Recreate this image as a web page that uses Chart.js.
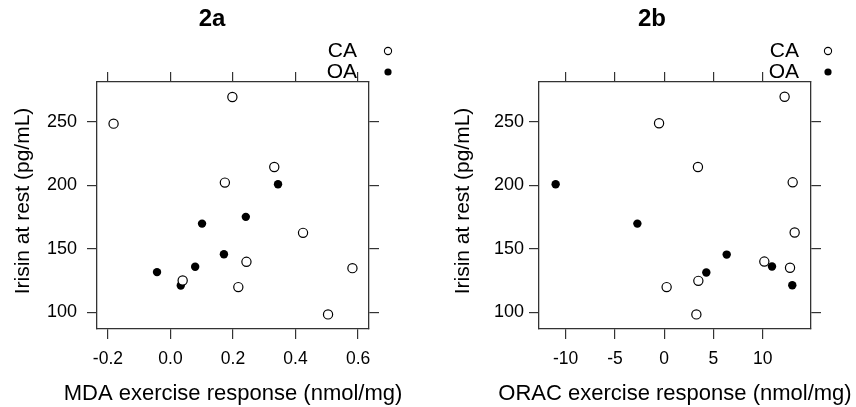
<!DOCTYPE html>
<html>
<head>
<meta charset="utf-8">
<script src="https://cdn.jsdelivr.net/npm/chart.js@4"></script>
<style>
  html, body { margin: 0; padding: 0; background: #fff; overflow: hidden; }
  .panel { position: absolute; top: 0; width: 428px; height: 407px; }
  #panelA { left: 0; }
  #panelB { left: 428px; }
</style>
</head>
<body>
<div class="panel" id="panelA"><canvas id="chartA"></canvas></div>
<div class="panel" id="panelB"><canvas id="chartB"></canvas></div>
<script>
// irisin at rest vs MDA exercise response
const mdaCAx = [-0.182, 0.198, 0.332, 0.174, 0.424, 0.243, 0.039, 0.217, 0.582, 0.504];
const mdaCAy = [248.7, 269.7, 214.6, 202.3, 162.7, 139.9, 125.2, 120.0, 134.9, 98.5];
const mdaOAx = [0.344, 0.241, 0.101, 0.171, 0.079, -0.043, 0.033];
const mdaOAy = [201.0, 175.3, 170.0, 145.9, 136.0, 131.8, 121.3];

// irisin at rest vs ORAC exercise response
const oracCAx = [12.23, -0.52, 3.43, 13.05, 13.25, 10.17, 12.78, 3.47, 0.25, 3.27];
const oracCAy = [269.9, 249.0, 214.6, 202.5, 163.0, 140.1, 135.2, 124.9, 120.0, 98.5];
const oracOAx = [-11.02, -2.72, 6.35, 4.28, 10.95, 13.01];
const oracOAy = [201.0, 170.0, 145.6, 131.5, 136.2, 121.5];

const mdaTicks = [-0.2, 0, 0.2, 0.4, 0.6];
const oracTicks = [-10, -5, 0, 5, 10];
const irisinTicks = [100, 150, 200, 250];
const groups = ["CA", "OA"];

const FONT = "'Liberation Sans', Arial, sans-serif";
Chart.defaults.font.family = FONT;
Chart.defaults.color = "#000";

const frameColor = "#333";

function toPoints(xs, ys) {
  return xs.map((x, i) => ({ x: x, y: ys[i] }));
}

function fixedTicks(values) {
  return function (scale) {
    scale.ticks = values.map((v) => ({ value: v }));
  };
}

function makePanel(canvasId, p) {
  const box = p.box; // chart area inside the canvas
  const W = 428, H = 407;

  const axisBase = {
    type: "linear",
    grid: { drawOnChartArea: false, drawTicks: true, tickLength: 10, color: frameColor, lineWidth: 1.2 },
    border: { display: true, color: frameColor, width: 1.3 }
  };

  // panel title, legend and axis titles (drawn by hand so they are not squeezed)
  const decor = {
    id: "decor",
    afterDraw(chart) {
      const ctx = chart.ctx;
      const area = chart.chartArea;
      ctx.save();
      ctx.fillStyle = "#000";
      ctx.font = "bold 24px " + FONT;
      ctx.textAlign = "center";
      ctx.textBaseline = "middle";
      ctx.fillText(p.title, p.titleX, 19);

      ctx.font = "22px " + FONT;
      ctx.textBaseline = "alphabetic";
      ctx.fillText(p.xTitle, (area.left + area.right) / 2, 400);

      ctx.save();
      ctx.translate(p.yTitleX, 201);
      ctx.rotate(-Math.PI / 2);
      ctx.font = "21px " + FONT;
      ctx.textBaseline = "middle";
      ctx.fillText("Irisin at rest (pg/mL)", 0, 0);
      ctx.restore();

      ctx.font = "21px " + FONT;
      ctx.textAlign = "right";
      ctx.textBaseline = "middle";
      groups.forEach((g, i) => {
        const y = 51 + i * 21;
        ctx.fillStyle = "#000";
        ctx.fillText(g, p.legendTextX, y);
        ctx.beginPath();
        ctx.arc(p.legendMarkX, y, 3.6, 0, Math.PI * 2);
        if (i === 0) {
          ctx.fillStyle = "#fff";
          ctx.fill();
          ctx.lineWidth = 1.1;
          ctx.strokeStyle = "#000";
          ctx.stroke();
        } else {
          ctx.fill();
        }
      });
      ctx.restore();
    }
  };

  return new Chart(document.getElementById(canvasId), {
    type: "scatter",
    data: {
      datasets: [
        {
          label: groups[0],
          data: toPoints(p.caX, p.caY),
          pointRadius: 4.6,
          pointBorderWidth: 1.2,
          pointBackgroundColor: "#fff",
          pointBorderColor: "#000"
        },
        {
          label: groups[1],
          data: toPoints(p.oaX, p.oaY),
          pointRadius: 4.2,
          pointBorderWidth: 0,
          pointBackgroundColor: "#000",
          pointBorderColor: "#000"
        }
      ]
    },
    options: {
      responsive: true,
      maintainAspectRatio: false,
      animation: false,
      layout: { padding: 0 },
      plugins: {
        legend: { display: false },
        title: { display: false },
        tooltip: { enabled: false }
      },
      scales: {
        x: {
          ...axisBase,
          position: "bottom",
          min: p.xMin,
          max: p.xMax,
          afterBuildTicks: fixedTicks(p.xTicks),
          afterFit(scale) { scale.height = H - box.bottom; },
          ticks: {
            font: { size: 17.5 },
            padding: 10,
            maxRotation: 0,
            callback: p.xFormat
          }
        },
        x2: {
          ...axisBase,
          position: "top",
          min: p.xMin,
          max: p.xMax,
          afterBuildTicks: fixedTicks(p.xTicks),
          afterFit(scale) { scale.height = box.top; },
          ticks: { display: false }
        },
        y: {
          ...axisBase,
          position: "left",
          min: 87,
          max: 281.5,
          afterBuildTicks: fixedTicks(irisinTicks),
          afterFit(scale) { scale.width = box.left; },
          ticks: {
            font: { size: 18 },
            padding: p.yPad,
            callback: (v) => String(v)
          }
        },
        y2: {
          ...axisBase,
          position: "right",
          min: 87,
          max: 281.5,
          afterBuildTicks: fixedTicks(irisinTicks),
          afterFit(scale) { scale.width = W - box.right; },
          ticks: { display: false }
        }
      }
    },
    plugins: [decor]
  });
}

makePanel("chartA", {
  title: "2a",
  titleX: 212,
  legendTextX: 357,
  legendMarkX: 388,
  box: { left: 97, right: 369, top: 82, bottom: 329 },
  caX: mdaCAx, caY: mdaCAy,
  oaX: mdaOAx, oaY: mdaOAy,
  xMin: -0.235, xMax: 0.635,
  xTicks: mdaTicks,
  xFormat: (v) => v.toFixed(1),
  xTitle: "MDA exercise response (nmol/mg)",
  yPad: 10,
  yTitleX: 23
});

makePanel("chartB", {
  title: "2b",
  titleX: 224,
  legendTextX: 371,
  legendMarkX: 400,
  box: { left: 111, right: 383, top: 82, bottom: 329 },
  caX: oracCAx, caY: oracCAy,
  oaX: oracOAx, oaY: oracOAy,
  xMin: -12.71, xMax: 14.91,
  xTicks: oracTicks,
  xFormat: (v) => String(v),
  xTitle: "ORAC exercise response (nmol/mg)",
  yPad: 5,
  yTitleX: 35
});
</script>
</body>
</html>
